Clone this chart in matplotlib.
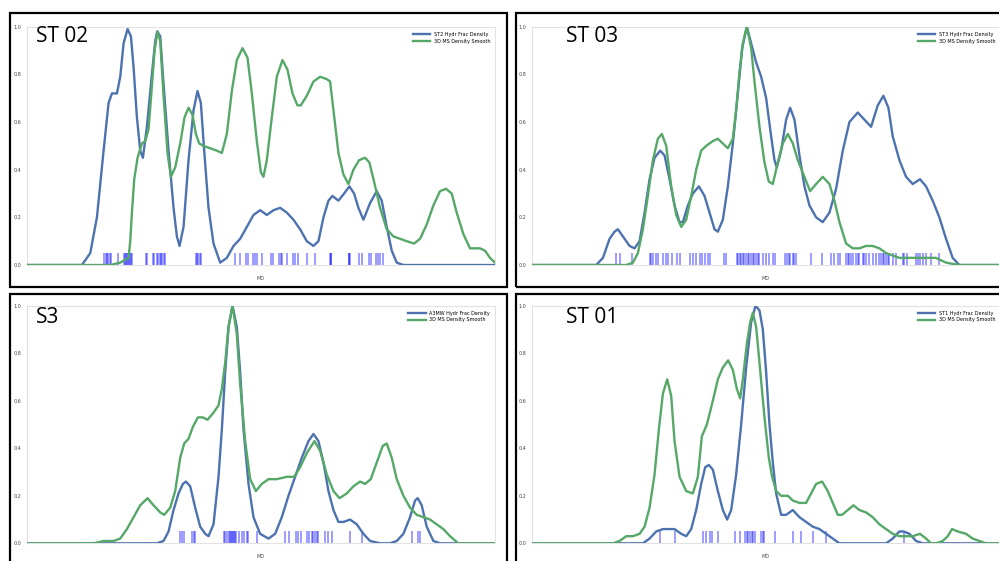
import matplotlib.pyplot as plt
from matplotlib.patches import Rectangle

# ---- ST 02 ----
st02_frac_md = [0, 165, 190, 210, 230, 245, 255, 270, 280, 290, 302, 312, 320, 330, 340, 348, 360, 375, 385, 391,
                400, 410, 425, 440, 450, 458, 470, 485, 500, 512, 522, 532, 545, 560, 580, 600, 620, 640, 660, 680,
                700, 720, 740, 760, 780, 800, 820, 840, 860, 875, 890, 905, 917, 935, 952, 968, 982, 995, 1010, 1030,
                1050, 1065, 1080, 1095, 1110, 1130, 1405]
st02_frac = [0, 0, 0.05, 0.20, 0.48, 0.68, 0.72, 0.72, 0.79, 0.93, 0.99, 0.96, 0.83, 0.62, 0.48, 0.45, 0.58, 0.80, 0.94, 0.98,
             0.96, 0.76, 0.48, 0.24, 0.12, 0.08, 0.16, 0.44, 0.65, 0.73, 0.68, 0.48, 0.24, 0.09, 0.01, 0.03, 0.08, 0.11, 0.16, 0.21,
             0.23, 0.21, 0.23, 0.24, 0.22, 0.19, 0.15, 0.10, 0.08, 0.10, 0.20, 0.27, 0.29, 0.27, 0.30, 0.33, 0.30, 0.24, 0.19, 0.26,
             0.31, 0.27, 0.16, 0.06, 0.01, 0, 0]
st02_ms_md = [0, 250, 280, 305, 310, 315, 322, 332, 345, 355, 365, 375, 383, 392, 400, 410, 422, 432, 445, 460,
              473, 485, 497, 507, 517, 530, 550, 570, 585, 600, 615, 630, 647, 662, 675, 690, 702, 710, 720, 735,
              750, 767, 782, 797, 812, 822, 840, 860, 880, 900, 910, 920, 935, 950, 965, 980, 997, 1015, 1028, 1042,
              1060, 1080, 1100, 1120, 1140, 1162, 1180, 1200, 1220, 1240, 1258, 1275, 1290, 1310, 1330, 1345, 1360, 1375, 1390, 1405]
st02_ms = [0, 0, 0.01, 0.03, 0.10, 0.22, 0.36, 0.45, 0.51, 0.52, 0.57, 0.75, 0.90, 0.98, 0.94, 0.71, 0.47, 0.37, 0.41, 0.51,
           0.62, 0.66, 0.63, 0.55, 0.51, 0.50, 0.49, 0.48, 0.47, 0.55, 0.73, 0.86, 0.91, 0.87, 0.72, 0.52, 0.39, 0.37, 0.44, 0.62,
           0.79, 0.86, 0.82, 0.72, 0.67, 0.67, 0.71, 0.77, 0.79, 0.78, 0.77, 0.65, 0.47, 0.38, 0.34, 0.40, 0.44, 0.45, 0.43, 0.35,
           0.24, 0.15, 0.12, 0.11, 0.10, 0.09, 0.11, 0.17, 0.25, 0.31, 0.32, 0.30, 0.22, 0.13, 0.07, 0.07, 0.07, 0.06, 0.03, 0.01]
st02_rug = [232, 236, 240, 244, 248, 252, 272, 292, 295, 298, 301, 304, 307, 310, 313, 316, 356, 360, 378, 382,
            390, 394, 398, 402, 406, 410, 415, 506, 510, 514, 518, 522, 625, 638, 658, 665, 680, 685, 690, 705,
            732, 738, 758, 762, 766, 780, 800, 806, 813, 842, 865, 910, 912, 914, 966, 968, 970, 998, 1006, 1028,
            1034, 1048, 1054, 1060, 1068]

# ---- ST 03 ----
st03_frac_md = [0, 193, 213, 233, 248, 258, 273, 293, 308, 323, 338, 353, 368, 385, 398, 413, 428, 443, 453, 468,
                483, 501, 518, 533, 548, 558, 573, 588, 603, 618, 631, 645, 658, 673, 688, 703, 718, 728, 735, 748,
                763, 775, 788, 803, 818, 833, 853, 873, 893, 913, 933, 953, 978, 998, 1018, 1038, 1055, 1070, 1083, 1103,
                1123, 1143, 1165, 1183, 1203, 1223, 1243, 1263, 1283, 1405]
st03_frac = [0, 0, 0.03, 0.11, 0.14, 0.15, 0.12, 0.08, 0.07, 0.10, 0.22, 0.36, 0.45, 0.48, 0.46, 0.36, 0.25, 0.18, 0.18, 0.25,
             0.30, 0.33, 0.29, 0.22, 0.15, 0.14, 0.19, 0.33, 0.51, 0.72, 0.91, 1.00, 0.93, 0.85, 0.79, 0.70, 0.54, 0.44, 0.41, 0.48,
             0.61, 0.66, 0.61, 0.46, 0.33, 0.25, 0.20, 0.18, 0.22, 0.32, 0.48, 0.60, 0.64, 0.61, 0.58, 0.67, 0.71, 0.66, 0.54, 0.44,
             0.37, 0.34, 0.36, 0.33, 0.27, 0.20, 0.11, 0.03, 0, 0]
st03_ms_md = [0, 283, 303, 318, 333, 348, 363, 378, 390, 403, 418, 433, 448, 463, 478, 493, 508, 523, 543, 558,
              573, 588, 603, 613, 623, 633, 645, 658, 668, 683, 698, 711, 723, 738, 753, 768, 783, 798, 815, 835,
              853, 873, 893, 908, 923, 943, 963, 983, 1003, 1023, 1043, 1063, 1083, 1103, 1143, 1183, 1213, 1243, 1283, 1405]
st03_ms = [0, 0, 0.01, 0.05, 0.15, 0.29, 0.44, 0.53, 0.55, 0.50, 0.33, 0.21, 0.16, 0.19, 0.29, 0.40, 0.48, 0.50, 0.52, 0.53,
           0.51, 0.49, 0.53, 0.65, 0.81, 0.93, 1.00, 0.91, 0.77, 0.58, 0.43, 0.35, 0.34, 0.43, 0.51, 0.55, 0.51, 0.44, 0.38, 0.31,
           0.34, 0.37, 0.34, 0.27, 0.18, 0.09, 0.07, 0.07, 0.08, 0.08, 0.07, 0.05, 0.04, 0.03, 0.03, 0.03, 0.03, 0.01, 0, 0]
st03_rug = [253, 265, 301, 353, 358, 363, 373, 378, 393, 403, 408, 421, 435, 443, 475, 483, 493, 503, 511, 518,
            528, 533, 575, 583, 615, 619, 623, 628, 633, 638, 643, 648, 653, 658, 663, 668, 673, 678, 683, 693,
            703, 713, 723, 731, 761, 765, 771, 775, 783, 788, 793, 838, 871, 898, 908, 918, 925, 943, 948, 953,
            958, 963, 973, 978, 983, 993, 998, 1003, 1013, 1023, 1033, 1043, 1048, 1053, 1058, 1063, 1068, 1073, 1083, 1093,
            1113, 1118, 1125, 1153, 1158, 1165, 1173, 1183, 1198, 1221]

# ---- S3 ----
s3_frac_md = [0, 390, 410, 425, 440, 455, 468, 477, 490, 505, 520, 535, 545, 560, 575, 585, 595, 605, 617, 630,
              640, 650, 665, 680, 700, 725, 745, 765, 785, 805, 825, 845, 860, 875, 890, 905, 920, 935, 950, 970,
              990, 1010, 1030, 1060, 1090, 1110, 1130, 1150, 1165, 1173, 1185, 1200, 1220, 1240, 1405]
s3_frac = [0, 0, 0.01, 0.05, 0.14, 0.21, 0.25, 0.26, 0.24, 0.15, 0.07, 0.04, 0.03, 0.08, 0.28, 0.48, 0.72, 0.91, 1.00, 0.91,
           0.72, 0.48, 0.25, 0.11, 0.04, 0.02, 0.04, 0.11, 0.20, 0.28, 0.36, 0.43, 0.46, 0.43, 0.34, 0.22, 0.14, 0.09, 0.09, 0.10,
           0.08, 0.04, 0.01, 0, 0, 0.01, 0.04, 0.11, 0.18, 0.19, 0.16, 0.07, 0.01, 0, 0]
s3_ms_md = [0, 170, 200, 230, 260, 280, 300, 320, 340, 362, 380, 400, 412, 430, 445, 460, 472, 485, 498, 513,
            528, 542, 560, 575, 585, 595, 605, 617, 630, 640, 655, 670, 687, 705, 725, 750, 780, 802, 820, 840,
            863, 880, 900, 920, 938, 960, 980, 1000, 1015, 1032, 1050, 1068, 1080, 1095, 1110, 1130, 1150, 1170, 1190, 1210,
            1230, 1250, 1270, 1295, 1320, 1405]
s3_ms = [0, 0, 0, 0.01, 0.01, 0.02, 0.06, 0.11, 0.16, 0.19, 0.16, 0.13, 0.12, 0.15, 0.22, 0.36, 0.42, 0.44, 0.49, 0.53,
         0.53, 0.52, 0.55, 0.58, 0.65, 0.76, 0.91, 1.00, 0.88, 0.67, 0.43, 0.27, 0.22, 0.25, 0.27, 0.27, 0.28, 0.28, 0.32, 0.38,
         0.43, 0.39, 0.29, 0.22, 0.19, 0.21, 0.24, 0.26, 0.25, 0.27, 0.34, 0.41, 0.42, 0.36, 0.27, 0.20, 0.15, 0.12, 0.11, 0.10,
         0.08, 0.06, 0.03, 0, 0, 0]
s3_rug = [460, 465, 472, 495, 500, 505, 590, 595, 600, 605, 608, 612, 615, 618, 620, 623, 626, 635, 645, 650,
          660, 665, 690, 775, 788, 808, 815, 822, 840, 848, 855, 860, 865, 870, 875, 895, 905, 915, 970, 1005,
          1155, 1175, 1180]

# ---- ST 01 ----
st01_frac_md = [0, 333, 353, 373, 393, 413, 428, 448, 463, 478, 493, 508, 520, 531, 543, 558, 573, 586, 598, 613,
                628, 643, 658, 671, 683, 693, 703, 713, 723, 733, 748, 763, 783, 803, 823, 843, 863, 883, 903, 923,
                943, 1063, 1083, 1103, 1116, 1133, 1153, 1173, 1405]
st01_frac = [0, 0, 0.02, 0.05, 0.06, 0.06, 0.06, 0.04, 0.03, 0.06, 0.14, 0.25, 0.32, 0.33, 0.31, 0.22, 0.14, 0.10, 0.14, 0.29,
             0.50, 0.74, 0.93, 1.00, 0.98, 0.90, 0.72, 0.50, 0.34, 0.21, 0.12, 0.12, 0.14, 0.11, 0.09, 0.07, 0.06, 0.04, 0.02, 0,
             0, 0, 0.02, 0.05, 0.05, 0.04, 0.01, 0, 0]
st01_ms_md = [0, 203, 243, 263, 283, 303, 323, 338, 353, 368, 381, 393, 406, 418, 428, 443, 463, 483, 498, 510,
              525, 543, 558, 573, 589, 603, 615, 625, 633, 645, 655, 663, 673, 683, 698, 711, 721, 733, 748, 768,
              783, 803, 823, 838, 853, 871, 888, 903, 918, 931, 948, 965, 983, 1003, 1023, 1043, 1063, 1083, 1103, 1123,
              1143, 1165, 1183, 1198, 1213, 1233, 1248, 1261, 1278, 1303, 1323, 1343, 1363, 1405]
st01_ms = [0, 0, 0, 0.01, 0.03, 0.03, 0.04, 0.07, 0.15, 0.29, 0.48, 0.63, 0.69, 0.62, 0.43, 0.28, 0.22, 0.21, 0.28, 0.45,
           0.50, 0.60, 0.69, 0.74, 0.77, 0.73, 0.65, 0.61, 0.69, 0.84, 0.93, 0.97, 0.91, 0.76, 0.53, 0.36, 0.28, 0.22, 0.20, 0.20,
           0.18, 0.17, 0.17, 0.21, 0.25, 0.26, 0.22, 0.17, 0.12, 0.12, 0.14, 0.16, 0.14, 0.13, 0.11, 0.08, 0.06, 0.04, 0.03, 0.03,
           0.03, 0.04, 0.02, 0, 0, 0.01, 0.03, 0.06, 0.05, 0.04, 0.02, 0.01, 0, 0]
st01_rug = [385, 430, 513, 521, 533, 540, 558, 610, 623, 640, 645, 650, 655, 660, 665, 670, 688, 693, 698, 731,
            783, 808, 843, 883, 1116]

panels = [
    ("ST 02", "ST2 Hydr Frac Density", st02_frac_md, st02_frac, st02_ms_md, st02_ms, st02_rug),
    ("ST 03", "ST3 Hydr Frac Density", st03_frac_md, st03_frac, st03_ms_md, st03_ms, st03_rug),
    ("S3", "A3MW Hydr Frac Density", s3_frac_md, s3_frac, s3_ms_md, s3_ms, s3_rug),
    ("ST 01", "ST1 Hydr Frac Density", st01_frac_md, st01_frac, st01_ms_md, st01_ms, st01_rug),
]
ms_label = "3D MS Density Smooth"

blue = "#4C72B0"
green = "#55A868"

fig = plt.figure(figsize=(9.99, 5.61), dpi=100)

axes_pos = [[0.027, 0.5276, 0.4685, 0.4248],
            [0.5325, 0.5276, 0.4685, 0.4248],
            [0.027, 0.0315, 0.4685, 0.4236],
            [0.5325, 0.0315, 0.4685, 0.4236]]
# black frames around each panel, (left, bottom, width, height) in figure fraction
frames = [(0.010, 0.4884, 0.4975, 0.489),
          (0.5165, 0.4884, 0.49, 0.489),
          (0.010, -0.007, 0.4975, 0.483),
          (0.5165, -0.007, 0.49, 0.483)]
# panel name anchors (left, baseline) in figure fraction
name_pos = [(0.036, 0.926), (0.567, 0.926), (0.036, 0.425), (0.567, 0.425)]


def draw_panel(ax, name, frac_label, frac_md, frac, ms_md, ms, rug):
    ax.plot(frac_md, frac, color=blue, lw=1.7, label=frac_label, zorder=3,
            solid_joinstyle="round")
    ax.plot(ms_md, ms, color=green, lw=1.7, label=ms_label, zorder=3,
            solid_joinstyle="round")
    ax.vlines(rug, 0, 0.05, color="blue", lw=1.2, alpha=0.45, zorder=2)
    ax.set_xlim(0, 1405)
    ax.set_ylim(0, 1.0)
    ax.set_yticks([0, 0.2, 0.4, 0.6, 0.8, 1.0])
    ax.set_yticklabels(["0.0", "0.2", "0.4", "0.6", "0.8", "1.0"])
    ax.set_xticks([])
    ax.tick_params(axis="y", length=0, pad=4, labelsize=3.5, labelcolor="#444444")
    ax.set_xlabel("MD", fontsize=3.5, color="#444444", labelpad=8)
    for s in ax.spines.values():
        s.set_color("#e2e2e2")
        s.set_linewidth(0.8)
    ax.legend(loc="upper right", fontsize=3.5, frameon=False, handlelength=3.5,
              borderaxespad=0.6, labelspacing=0.4)


for i, p in enumerate(panels):
    ax = fig.add_axes(axes_pos[i])
    draw_panel(ax, *p)
    fig.patches.append(Rectangle(frames[i][:2], frames[i][2], frames[i][3], transform=fig.transFigure,
                                 fill=False, edgecolor="black", lw=1.6, figure=fig))
    fig.text(name_pos[i][0], name_pos[i][1], p[0], fontsize=15, family="Open Sans",
             va="baseline", ha="left")

fig.savefig("out.png", dpi=100)
